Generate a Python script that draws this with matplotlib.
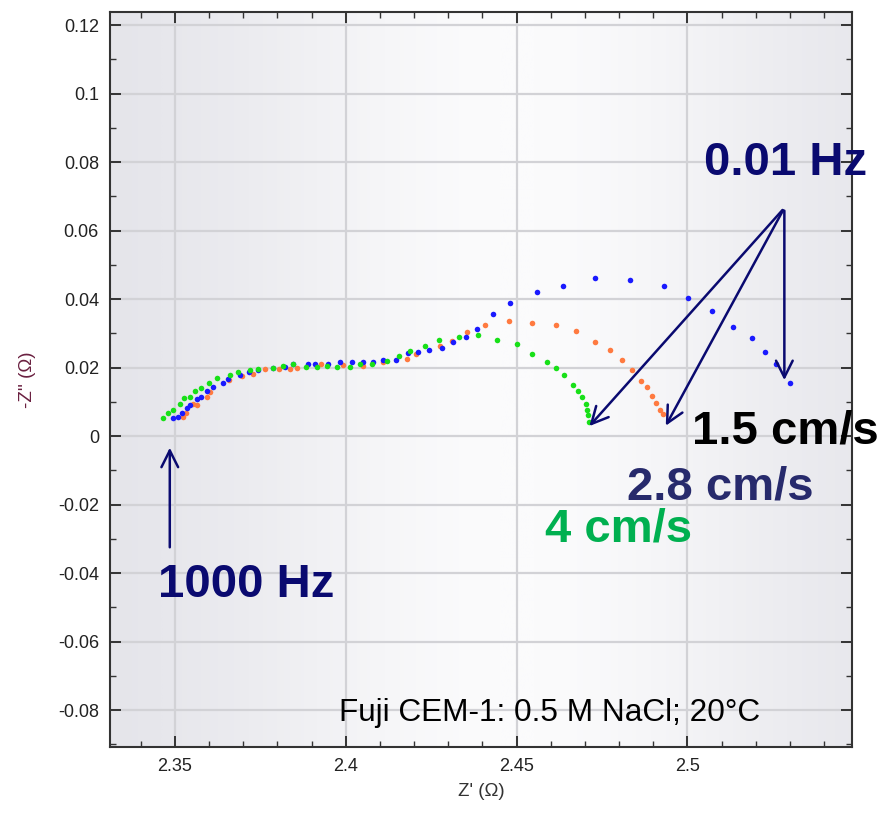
import numpy as np
import matplotlib
matplotlib.use("Agg")
import matplotlib.pyplot as plt
from matplotlib.colors import LinearSegmentedColormap

plt.rcParams['font.family'] = ['Liberation Sans', 'DejaVu Sans']

# ---- data (Z' , -Z'') ----
green_x = [2.3465, 2.3480, 2.3494, 2.3515, 2.3526, 2.3544, 2.3558, 2.3576, 2.3599, 2.3623,
           2.3661, 2.3684, 2.3719, 2.3743, 2.3787, 2.3816, 2.3845, 2.3883, 2.3915, 2.3944,
           2.3974, 2.4012, 2.4041, 2.4076, 2.4120, 2.4155, 2.4187, 2.4231, 2.4272, 2.4333,
           2.4386, 2.4442, 2.4500, 2.4544, 2.4588, 2.4617, 2.4640, 2.4664, 2.4681, 2.4693,
           2.4702, 2.4705, 2.4708, 2.4711]
green_y = [0.0053, 0.0067, 0.0076, 0.0093, 0.0111, 0.0114, 0.0131, 0.0140, 0.0155, 0.0169,
           0.0178, 0.0187, 0.0193, 0.0196, 0.0199, 0.0204, 0.0210, 0.0201, 0.0201, 0.0204,
           0.0201, 0.0201, 0.0210, 0.0210, 0.0219, 0.0234, 0.0248, 0.0263, 0.0280, 0.0289,
           0.0295, 0.0280, 0.0269, 0.0239, 0.0216, 0.0199, 0.0178, 0.0149, 0.0131, 0.0114,
           0.0093, 0.0076, 0.0061, 0.0041]

orange_x = [2.3523, 2.3532, 2.3553, 2.3564, 2.3594, 2.3602, 2.3658, 2.3696, 2.3728, 2.3763,
            2.3804, 2.3836, 2.3857, 2.3927, 2.3991, 2.4050, 2.4108, 2.4178, 2.4205, 2.4275,
            2.4310, 2.4354, 2.4409, 2.4477, 2.4544, 2.4617, 2.4675, 2.4731, 2.4775, 2.4810,
            2.4839, 2.4865, 2.4883, 2.4898, 2.4909, 2.4921, 2.4930]
orange_y = [0.0055, 0.0067, 0.0093, 0.0091, 0.0114, 0.0128, 0.0164, 0.0175, 0.0181, 0.0196,
            0.0196, 0.0196, 0.0199, 0.0210, 0.0207, 0.0204, 0.0216, 0.0225, 0.0239, 0.0263,
            0.0277, 0.0304, 0.0324, 0.0336, 0.0330, 0.0324, 0.0307, 0.0274, 0.0251, 0.0222,
            0.0193, 0.0161, 0.0143, 0.0117, 0.0096, 0.0076, 0.0064]

blue_x = [2.3494, 2.3509, 2.3520, 2.3535, 2.3544, 2.3564, 2.3576, 2.3594, 2.3611, 2.3640,
          2.3655, 2.3690, 2.3716, 2.3743, 2.3787, 2.3822, 2.3845, 2.3889, 2.3909, 2.3947,
          2.3982, 2.4018, 2.4050, 2.4079, 2.4108, 2.4146, 2.4181, 2.4211, 2.4243, 2.4281,
          2.4313, 2.4351, 2.4383, 2.4430, 2.4482, 2.4561, 2.4635, 2.4731, 2.4833, 2.4933,
          2.5003, 2.5073, 2.5135, 2.5190, 2.5228, 2.5260, 2.5301]
blue_y = [0.0053, 0.0055, 0.0067, 0.0082, 0.0091, 0.0108, 0.0114, 0.0131, 0.0143, 0.0155,
          0.0166, 0.0178, 0.0187, 0.0193, 0.0199, 0.0201, 0.0210, 0.0210, 0.0210, 0.0210,
          0.0216, 0.0216, 0.0216, 0.0216, 0.0222, 0.0222, 0.0242, 0.0245, 0.0251, 0.0257,
          0.0274, 0.0289, 0.0312, 0.0356, 0.0388, 0.0420, 0.0438, 0.0461, 0.0455, 0.0438,
          0.0403, 0.0365, 0.0318, 0.0286, 0.0245, 0.0210, 0.0155]

x_ticks = [2.35, 2.4, 2.45, 2.5]
x_tick_labels = ['2.35', '2.4', '2.45', '2.5']
y_ticks = [0.12, 0.1, 0.08, 0.06, 0.04, 0.02, 0, -0.02, -0.04, -0.06, -0.08]
y_tick_labels = ['0.12', '0.1', '0.08', '0.06', '0.04', '0.02', '0', '-0.02', '-0.04', '-0.06', '-0.08']

xmin, xmax = 2.3310, 2.5482
ymin, ymax = -0.0908, 0.1238

fig = plt.figure(figsize=(8.86, 8.13), dpi=100)
ax = fig.add_axes([110/886, 1-747/813, (852-110)/886, (747-12)/813])
ax.set_xlim(xmin, xmax)
ax.set_ylim(ymin, ymax)

# background horizontal gradient (grey edges, white centre)
bg_cmap = LinearSegmentedColormap.from_list('bg', ['#e2e2e8', '#fbfbfc'])
t = np.linspace(0, 1, 400)
prof = np.exp(-((t-0.55)/0.38)**2)
img = np.tile(prof, (2, 1))
ax.imshow(img, extent=[xmin, xmax, ymin, ymax], aspect='auto', cmap=bg_cmap,
          vmin=0, vmax=1, zorder=0, interpolation='bilinear')

ax.set_xticks(x_ticks)
ax.set_xticklabels(x_tick_labels)
ax.set_yticks(y_ticks)
ax.set_yticklabels(y_tick_labels)
ax.set_xticks(np.arange(2.34, 2.545, 0.01), minor=True)
ax.set_yticks(np.arange(-0.09, 0.125, 0.01), minor=True)
ax.grid(True, which='major', color='#d2d2d6', linewidth=1.6, zorder=1)
ax.set_axisbelow(True)
ax.tick_params(which='both', direction='in', top=True, right=True, color='#333333')
ax.tick_params(which='major', length=8, width=1.4, labelsize=13, labelcolor='#222222', pad=8)
ax.tick_params(which='minor', length=4, width=1.0)
for s in ax.spines.values():
    s.set_color('#333333')
    s.set_linewidth(1.5)

ax.scatter(orange_x, orange_y, s=16, color='#ff7a40', zorder=3, linewidths=0)
ax.scatter(blue_x, blue_y, s=16, color='#1a1aff', zorder=4, linewidths=0)
ax.scatter(green_x, green_y, s=16, color='#18e018', zorder=5, linewidths=0)

ax.set_xlabel("Z' (\u03a9)", fontsize=13.5, color='#333333', labelpad=6)
ax.set_ylabel("-Z'' (\u03a9)", fontsize=13.5, color='#6a2040', labelpad=16)

navy = '#0a0a70'
arr = dict(arrowstyle='->', color=navy, lw=1.8, mutation_scale=30)
src = (2.5284, 0.0666)
for tgt in [(2.4708, 0.0023), (2.4933, 0.0023), (2.5284, 0.0155)]:
    ax.annotate('', xy=tgt, xytext=src, arrowprops=arr, zorder=6)
ax.annotate('', xy=(2.3485, -0.0026), xytext=(2.3485, -0.0333), arrowprops=arr, zorder=6)

bold = dict(fontsize=34, fontweight='bold', ha='center', va='center', zorder=7)
ax.text(2.5287, 0.0797, '0.01 Hz', color=navy, clip_on=False, **bold)
ax.text(2.5287, 0.0012, '1.5 cm/s', color='black', clip_on=False, **bold)
ax.text(2.5096, -0.0149, '2.8 cm/s', color='#272a6c', clip_on=False, **bold)
ax.text(2.4798, -0.0274, '4 cm/s', color='#00b050', clip_on=False, **bold)
ax.text(2.3708, -0.0435, '1000 Hz', color=navy, clip_on=False, **bold)
ax.text(2.4596, -0.0809, 'Fuji CEM-1: 0.5 M NaCl; 20\u00b0C', color='black',
        fontsize=22.7, ha='center', va='center', zorder=7)

fig.savefig('out.png', dpi=100)
